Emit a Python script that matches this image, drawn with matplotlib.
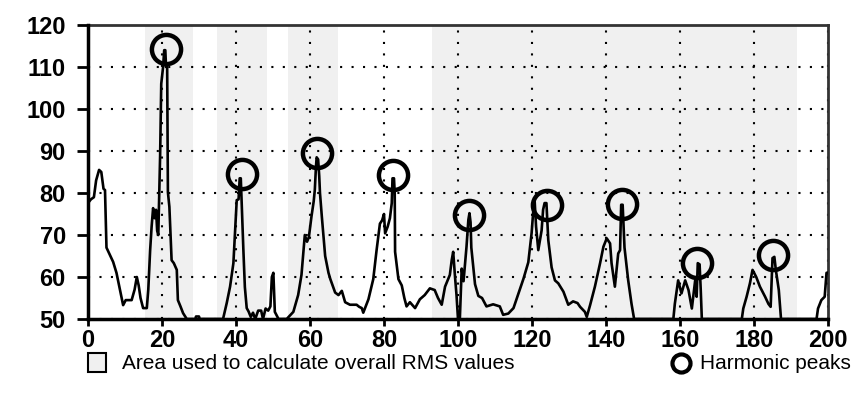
import matplotlib
matplotlib.use("Agg")
import matplotlib.pyplot as plt
from matplotlib.patches import Rectangle
from matplotlib.lines import Line2D

plt.rcParams['font.family'] = ['Liberation Sans', 'DejaVu Sans']

# spectrum trace (frequency, level)
freq = [0, 0, 0.8, 1.6, 2.2, 3.0, 3.6, 4.2, 4.6, 5.0, 5.8, 6.8, 7.7, 8.4, 9.1, 9.5, 10.2, 11.8,
        12.6, 13.2, 13.7, 14.2, 14.9, 15.9, 16.3, 16.8, 17.2, 17.6, 18.0, 18.4, 18.7, 19.0, 19.3,
        19.5, 19.8, 20.3, 20.6, 20.9, 21.1, 21.4, 21.6, 22.0, 22.6, 23.2, 24.0, 24.3, 25.0, 25.7,
        26.7, 29.0, 29.2, 30.0, 30.2,
        36.5, 37.5, 38.4, 39.3, 40.2, 40.7, 41.0, 41.3, 41.5, 42.0, 42.4, 42.9, 43.4, 44.0, 44.6,
        45.2, 46.0, 46.8, 47.3, 48.0, 48.7, 49.3, 49.7, 50.1, 50.5, 51.5, 53.7, 55.5, 56.8, 57.7,
        58.6, 59.2, 59.7, 60.4, 61.0, 61.3, 61.6, 61.8, 62.2, 62.5, 62.7, 63.2, 64.1, 65.0, 65.5,
        66.8, 67.7, 68.6, 69.5, 70.8, 72.6, 73.3, 74.0, 74.4, 75.8, 77.1, 78.0, 78.9, 79.5, 80.0,
        80.3, 81.0, 81.6, 82.1, 82.3, 82.7, 82.9, 83.0, 83.9, 84.8, 85.5, 86.1, 87.0, 88.4, 89.7,
        91.0, 92.4, 93.7, 94.6, 95.6, 96.5, 97.8, 98.3, 98.7, 99.2, 99.6, 100.0, 100.5, 101.0,
        101.5, 102.3, 102.8, 103.1, 103.4, 103.6, 104.6, 105.5, 106.5, 107.7, 109.5, 111.3, 112.2,
        113.6, 115.0, 116.3, 117.7, 119.0, 119.9, 120.3, 120.7, 121.1, 121.7, 122.6, 123.0, 123.4,
        123.9, 124.4, 125.3, 126.2, 127.1, 128.5, 129.8, 131.1, 132.3, 133.0, 134.3, 134.8, 135.7,
        137.0, 138.4, 139.3, 140.2, 141.1, 141.5, 142.4, 143.3, 143.8, 144.1, 144.5, 145.0, 146.0,
        146.9, 147.6, 158.2, 158.6, 159.5, 160.4, 161.4, 162.3, 163.2, 164.1, 164.5, 164.8, 165.3,
        165.6, 165.9, 176.7, 177.1, 178.0, 178.9, 179.6, 180.6, 181.6, 183.0, 183.9, 184.5, 185.0,
        185.5, 185.9, 186.7, 187.3, 196.9, 197.3, 198.2, 199.1, 199.6, 200.0]
level = [50, 77.6, 78.5, 79, 83, 85.5, 85, 81, 80.7, 67, 65.5, 63.6, 61, 58, 55, 53.3, 54.5, 54.5,
         57, 60, 58, 55, 52.6, 52.6, 57, 66.4, 72, 76.4, 74, 76, 71, 70, 81,
         89, 106, 110, 114, 114, 110, 110, 80.2, 76.7, 64, 63.3, 61.7, 54.5, 53, 51.4,
         50, 50, 50.6, 50.6, 50,
         50, 53.8, 57.7, 63.3, 78.3, 78.5, 83.5, 83.5, 78.5, 66.4, 57.6, 52.6, 51.8, 50.5, 51.5,
         50, 52, 52, 50, 52.5, 52, 53, 60, 61, 51.7, 50, 50, 51.7, 55.7, 60.5,
         70, 68.4, 69.5, 74.4, 78, 80.7, 86, 88.5, 88, 84, 80, 74.4, 65, 61, 59.5,
         56.3, 55.7, 56.7, 54, 53.4, 53.4, 52.9, 52.6, 51.5, 54.7, 59.5, 66.4, 72.7, 73.5, 75,
         70.4, 72, 74, 77.6, 83.5, 83.5, 80, 66, 59.5, 58, 55, 53, 54, 52.6, 54.7,
         55.7, 57.3, 56.9, 55, 53.4, 57.7, 60.5, 64, 66, 60, 55.7, 50, 50, 62,
         59, 67.2, 73.6, 75.2, 73, 67, 58.3, 55.5, 55, 53, 53.5, 53, 51,
         51.3, 52.6, 56, 59.6, 63.5, 70.5, 75.2, 78.4, 72, 66.4, 71.1, 76, 77.6,
         77.6, 68.8, 62.3, 59.2, 58.5, 56.5, 53.4, 54.2, 53.8, 52.9, 51.7, 50.5, 53.3,
         57.7, 63.3, 67.2, 69.2, 68, 63.3, 57.7, 65.6, 66.4, 77.2, 77.2, 67, 59.2,
         53.6, 50, 50, 53.6, 59.2, 56.1, 59.2, 56.9, 52.5, 59.2, 55.3, 63.3, 63,
         57, 50, 50, 52.5, 55.3, 58.5, 61.7, 60, 57.7, 55.3, 53.6, 52.9, 64.5,
         64.8, 61.7, 56.9, 50, 50, 52.5, 54.5, 55.3, 61, 61]

# harmonic peaks (circled)
peak_freq = [21.0, 41.7, 61.8, 82.5, 103.1, 124.0, 144.4, 164.5, 185.2]
peak_level = [114.2, 84.5, 89.5, 84.3, 74.8, 77.1, 77.5, 63.3, 65.2]

# areas used for the overall RMS values
rms_bands = [(15.4, 28.4), (34.9, 48.4), (54.0, 67.6), (93.0, 191.6)]

x_ticks = list(range(0, 201, 20))
y_ticks = list(range(50, 121, 10))

SHADE = '#f0f0f0'

fig = plt.figure(figsize=(8.6, 4.03), dpi=100)
ax = fig.add_axes([0.1023, 0.2084, 0.8605, 0.7296])

for lo, hi in rms_bands:
    ax.axvspan(lo, hi, color=SHADE, lw=0, zorder=0)

ax.grid(True, color='black', linestyle=(0, (1, 4.5)), linewidth=1.5, zorder=1)
ax.plot(freq, level, color='black', lw=1.9, zorder=3)
ax.plot(peak_freq, peak_level, 'o', ms=21, mfc='none', mec='black', mew=3.2, zorder=4,
        clip_on=False)

ax.set_xlim(0, 200)
ax.set_ylim(50, 120)
ax.set_xticks(x_ticks)
ax.set_yticks(y_ticks)
ax.tick_params(axis='x', direction='out', length=5, width=2, pad=2)
ax.tick_params(axis='y', direction='out', length=8, width=2, pad=8)
for lab in ax.get_xticklabels() + ax.get_yticklabels():
    lab.set_fontsize(17)
    lab.set_fontweight('bold')

for side in ['left', 'bottom']:
    ax.spines[side].set_linewidth(2.5)
    ax.spines[side].set_zorder(5)
for side in ['top', 'right']:
    ax.spines[side].set_linewidth(2)
    ax.spines[side].set_color('#333333')

# legend drawn by hand underneath
fig.patches.append(Rectangle((0.102, 0.076), 0.021, 0.047, transform=fig.transFigure,
                             facecolor=SHADE, edgecolor='black', lw=1.5))
fig.text(0.142, 0.097, 'Area used to calculate overall RMS values', fontsize=15, va='center')
fig.lines.append(Line2D([0.792], [0.099], marker='o', ms=13, mfc='none', mec='black', mew=3,
                        transform=fig.transFigure))
fig.text(0.814, 0.097, 'Harmonic peaks', fontsize=15, va='center')

fig.savefig('out.png', dpi=100)
